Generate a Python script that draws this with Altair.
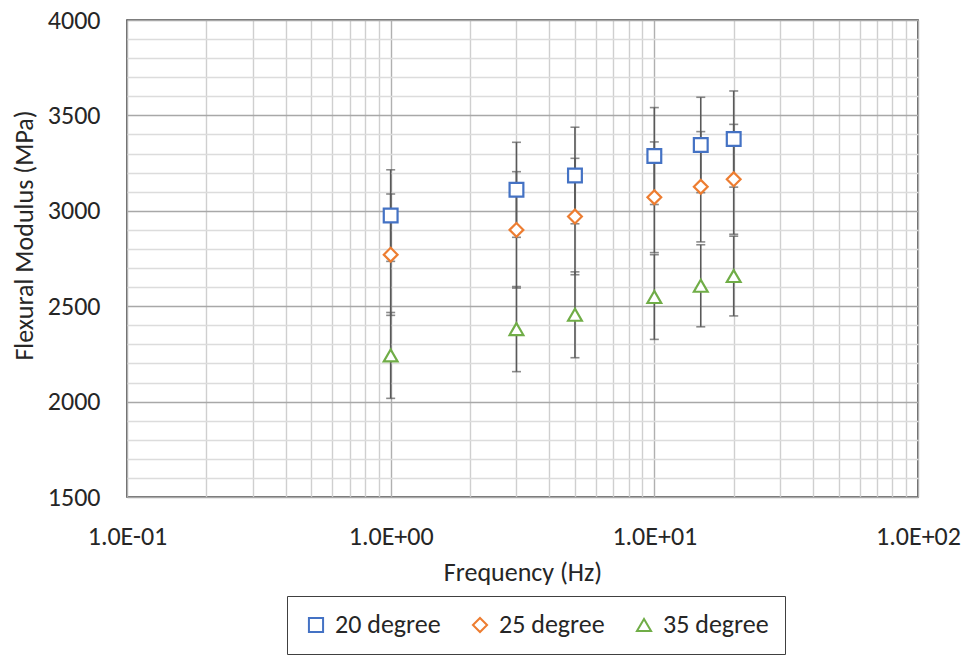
import altair as alt
import pandas as pd

# Frequency sweep (Hz) and flexural modulus (MPa) with +/- error per specimen angle
freq_hz = [1, 3, 5, 10, 15, 20]
series_names = ["20 degree", "25 degree", "35 degree"]

mod_20 = [2975, 3110, 3185, 3287, 3345, 3376]
err_20 = [240, 249, 253, 254, 250, 252]
mod_25 = [2770, 2900, 2970, 3071, 3126, 3165]
err_25 = [318, 305, 305, 290, 289, 288]
mod_35 = [2242, 2380, 2455, 2548, 2607, 2658]
err_35 = [225, 223, 225, 222, 215, 209]

series_colors = ["#4472C4", "#ED7D31", "#70AD47"]
series_shapes = ["square", "diamond", "triangle-up"]

# axis tick / grid values
x_decades = [0.1, 1, 10, 100]
x_decade_labels = ["1.0E-01", "1.0E+00", "1.0E+01", "1.0E+02"]
x_grid_values = [round(k * d, 6) for d in x_decades[:-1] for k in range(1, 10)] + [100]
y_grid_values = list(range(1500, 4001, 100))

rows = []
for name, mods, errs in zip(series_names, [mod_20, mod_25, mod_35], [err_20, err_25, err_35]):
    for f, m, e in zip(freq_hz, mods, errs):
        rows.append({"series": name, "freq": f, "modulus": m, "lo": m - e, "hi": m + e})
df = pd.DataFrame(rows)

FONT = "Carlito, Lato, sans-serif"

x_label_expr = " : ".join(
    f"datum.value == {v} ? '{t}'" for v, t in zip(x_decades, x_decade_labels)
) + " : ''"

x_scale = alt.Scale(type="log", domain=[0.1, 100], nice=False)
y_scale = alt.Scale(domain=[1500, 4000], nice=False, zero=False)

x_axis = alt.Axis(
    values=x_grid_values,
    labelExpr=x_label_expr,
    title="Frequency (Hz)",
    gridColor={
        "condition": {
            "test": "abs(log(datum.value)/LN10 - round(log(datum.value)/LN10)) < 1e-6",
            "value": "#b0b0b0",
        },
        "value": "#cfcfcf",
    },
    labelPadding=26,
    titlePadding=10,
)

y_axis = alt.Axis(
    values=y_grid_values,
    labelExpr="datum.value % 500 === 0 ? datum.label : ''",
    format="d",
    title="Flexural Modulus (MPa)",
    gridColor={
        "condition": {"test": "datum.value % 500 === 0", "value": "#a8a8a8"},
        "value": "#dcdcdc",
    },
    labelPadding=27,
    titleX=-90,
    titleY=215,
)


def xq(field):
    return alt.X(field, scale=x_scale, axis=x_axis)


def yq(field):
    return alt.Y(field, scale=y_scale, axis=y_axis)


base = alt.Chart(df)

points = base.mark_point(
    filled=False, fill="white", fillOpacity=1, strokeWidth=2.2, size=190, opacity=1
).encode(
    x=xq("freq:Q"),
    y=yq("modulus:Q"),
    color=alt.Color(
        "series:N",
        scale=alt.Scale(domain=series_names, range=series_colors),
        legend=alt.Legend(title=None),
    ),
    shape=alt.Shape(
        "series:N",
        scale=alt.Scale(domain=series_names, range=series_shapes),
        legend=alt.Legend(title=None),
    ),
)

bars = base.mark_rule(color="#595959", strokeWidth=1.6).encode(
    x=xq("freq:Q"), y=yq("lo:Q"), y2="hi:Q"
)
cap_lo = base.mark_tick(color="#595959", orient="horizontal", size=9, thickness=1.6).encode(
    x=xq("freq:Q"), y=yq("lo:Q")
)
cap_hi = base.mark_tick(color="#595959", orient="horizontal", size=9, thickness=1.6).encode(
    x=xq("freq:Q"), y=yq("hi:Q")
)

chart = (
    alt.layer(bars, cap_lo, cap_hi, points)
    .properties(
        width=791,
        height=477,
        autosize=alt.AutoSizeParams(type="none"),
        padding={"left": 127, "top": 20, "right": 48, "bottom": 160},
        background="white",
    )
    .configure_view(stroke="#404040", strokeWidth=1.6)
    .configure_axis(
        grid=True,
        gridWidth=1.4,
        ticks=False,
        domain=False,
        labelFont=FONT,
        labelFontSize=26,
        labelColor="#262626",
        labelOverlap=False,
        labelFlush=False,
        titleFont=FONT,
        titleFontSize=26,
        titleFontWeight="normal",
        titleColor="#262626",
    )
    .configure_legend(
        orient="none",
        legendX=160,
        legendY=576,
        direction="horizontal",
        strokeColor="#404040",
        fillColor="white",
        padding=16,
        labelFont=FONT,
        labelFontSize=26,
        labelColor="#262626",
        labelOffset=6,
        columnPadding=26,
        symbolSize=200,
        symbolStrokeWidth=2,
        symbolFillColor="white",
    )
)

chart.save("out.html", embed_options={"renderer": "svg", "actions": False})
